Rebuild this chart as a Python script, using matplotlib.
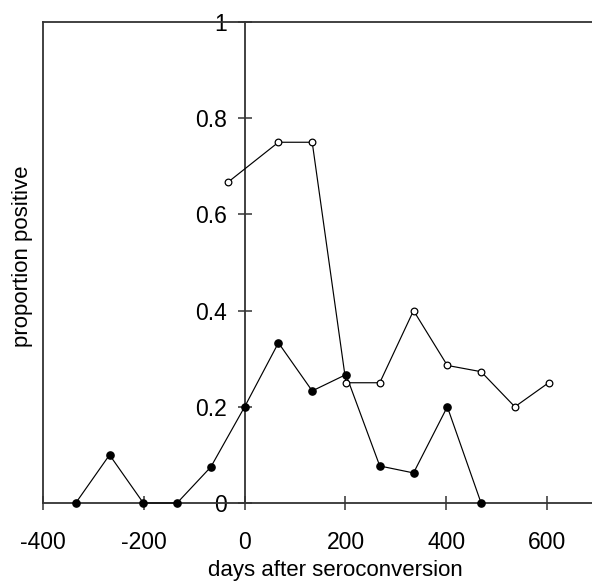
import matplotlib
matplotlib.use("Agg")
import matplotlib.pyplot as plt

plt.rcParams['font.family'] = ['Liberation Sans', 'DejaVu Sans']

# Data
days_filled = [-335, -268, -201, -134, -67, 0, 67, 134, 201, 268, 335, 402, 469]
prop_filled = [0.0, 0.10, 0.0, 0.0, 0.075, 0.20, 0.333, 0.233, 0.267, 0.077, 0.0625, 0.20, 0.0]

days_open = [-33, 67, 134, 201, 268, 335, 402, 469, 536, 603]
prop_open = [0.667, 0.75, 0.75, 0.25, 0.25, 0.40, 0.286, 0.273, 0.20, 0.25]

x_ticks = [-400, -200, 0, 200, 400, 600]
x_ticklabels = ['-400', '-200', '0', '200', '400', '600']
y_ticks = [0, 0.2, 0.4, 0.6, 0.8, 1.0]
y_ticklabels = ['0', '0.2', '0.4', '0.6', '0.8', '1']

W, H = 592, 583
fig = plt.figure(figsize=(W / 100, H / 100), dpi=100)
left, right, top, bottom = 43, 592, 22, 503
ax = fig.add_axes([left / W, 1 - bottom / H, (right - left) / W, (bottom - top) / H])

axis_color = '#333333'
ax.plot(days_filled, prop_filled, color='black', lw=0.85, marker='o',
        markersize=5.2, markerfacecolor='black', markeredgecolor='black', zorder=3,
        clip_on=False)
ax.plot(days_open, prop_open, color='black', lw=0.85, marker='o',
        markersize=4.8, markerfacecolor='white', markeredgecolor='black',
        markeredgewidth=0.9, zorder=4, clip_on=False)

ax.set_xlim(-400, 689)
ax.set_ylim(0, 1)

ax.spines['right'].set_visible(False)
ax.spines['left'].set_position(('data', 0))
for s in ['left', 'top', 'bottom']:
    ax.spines[s].set_color(axis_color)
    ax.spines[s].set_linewidth(1.3)
# frame line at the left edge of the plot area
ax.plot([0, 0], [0, 1], transform=ax.transAxes, color=axis_color, lw=1.3,
        clip_on=False, zorder=2)

ax.set_xticks(x_ticks)
ax.set_xticklabels(x_ticklabels)
ax.set_yticks(y_ticks)
ax.set_yticklabels(y_ticklabels)
ax.tick_params(axis='x', direction='inout', length=10, width=1.1, color=axis_color,
               labelsize=16.5, pad=15.5)
ax.tick_params(axis='y', direction='inout', length=10, width=1.1, color=axis_color,
               labelsize=16.5, pad=8)

ax.set_xlabel('days after seroconversion', fontsize=16)
ax.set_ylabel('proportion positive', fontsize=16)
ax.xaxis.set_label_coords((335 - left) / (right - left), 1 - (576 - top) / (bottom - top))
ax.xaxis.label.set_va('baseline')
ax.yaxis.set_label_coords((23 - left) / (right - left), 1 - (256 - top) / (bottom - top))
ax.yaxis.label.set_va('center')

fig.savefig('out.png', dpi=100)
